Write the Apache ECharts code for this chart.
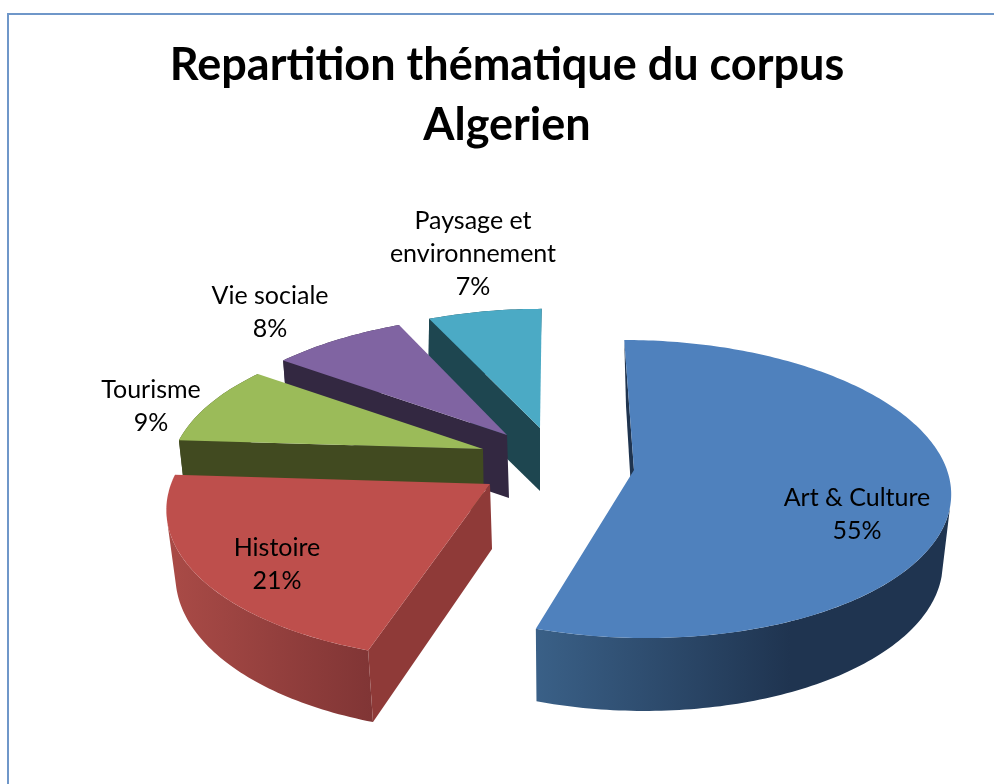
<!DOCTYPE html>
<html>
<head>
<meta charset="utf-8">
<style>html,body{margin:0;padding:0;background:#fff}#c{width:994px;height:784px}</style>
<script src="https://cdn.jsdelivr.net/npm/echarts@6/dist/echarts.min.js"></script>
</head>
<body>
<div id="c"></div>
<script>
var titleLines = ['Repartition thématique du corpus', 'Algerien'];
var categories = ['Art & Culture', 'Histoire', 'Tourisme', 'Vie sociale', 'Paysage et\nenvironnement'];
var shares = [55, 21, 9, 8, 7];

var topColors = ['#4f81bd', '#be4f4c', '#9bbb59', '#8064a2', '#4baac5'];
var cutColors = ['#1f344f', '#8f3a38', '#414a20', '#332841', '#1e4650'];
var wallStops = [
  [[0, '#3a6087'], [0.627, '#1f3450'], [1, '#1f3450']],
  [[0, '#a84a46'], [1, '#803535']],
  [[0, '#414a20'], [1, '#414a20']],
  [[0, '#332841'], [1, '#332841']],
  [[0, '#1e4650'], [1, '#1e4650']]
];
// Perspective of each exploded slice: apex, radii, shear, foreshortening (top face, then bottom face)
var topFace = [
  {x: 634, y: 470, rx: 313, ry: 146.6, sh: -11, k: 0.1275},
  {x: 490, y: 484, rx: 319, ry: 150, sh: 6.2, k: 0.15},
  {x: 483, y: 449, rx: 308, ry: 139, sh: 7.2, k: 0.15},
  {x: 507, y: 435, rx: 308, ry: 138, sh: 9.5, k: 0.15},
  {x: 540, y: 428, rx: 300, ry: 137, sh: 2, k: 0.15}
];
var bottomFace = [
  {x: 634, y: 539, rx: 305, ry: 150, sh: -9, k: 0.1275},
  {x: 492, y: 549, rx: 312, ry: 156, sh: 5.9, k: 0.15},
  {x: 484, y: 511, rx: 302, ry: 139, sh: 7.2, k: 0.15},
  {x: 509, y: 498, rx: 304, ry: 138, sh: 9.5, k: 0.15},
  {x: 540, y: 491, rx: 298, ry: 137, sh: 0, k: 0.15}
];
// Silhouette angle where the curved wall starts or stops being visible (null: whole arc)
var wallFrom = [104, null, null, null, null];
var wallTo = [null, 256, null, null, null];
var labelPos = [[857, 514], [277, 564], [151, 406], [270, 312], [473, 254]];
var paintOrder = [3, 4, 2, 1, 0]; // stacking rank: front slices paint last

function project(f, deg) {
  var t = deg * Math.PI / 180, s = Math.sin(t), c = Math.cos(t), w = 1 + f.k * c;
  return [f.x + (f.rx * s + f.sh * c) / w, f.y - f.ry * c / w];
}
function arc(f, a, b) {
  var pts = [], n = Math.max(2, Math.ceil(Math.abs(b - a)));
  for (var i = 0; i <= n; i++) pts.push(project(f, a + (b - a) * i / n));
  return pts;
}
var total = shares.reduce(function (a, b) { return a + b; }, 0);

function renderSlice(params, api) {
  var i = api.value(1), start = 0;
  for (var j = 0; j < i; j++) start += shares[j];
  var a = start / total * 360, b = a + api.value(0) / total * 360;
  var T = topFace[i], B = bottomFace[i];
  var wa = wallFrom[i] === null ? a : wallFrom[i], wb = wallTo[i] === null ? b : wallTo[i];
  var wallTop = arc(T, wa, wb), wallBot = arc(B, wa, wb);
  var base = paintOrder[i] * 10 + 1;
  var xs = wallBot.map(function (p) { return p[0]; });
  var x0 = Math.min.apply(null, xs), x1 = Math.max.apply(null, xs);
  var wallFill = new echarts.graphic.LinearGradient(x0, 0, x1, 0,
    wallStops[i].map(function (s) { return {offset: s[0], color: s[1]}; }), true);
  var children = [
    // curved outer wall
    {type: 'polygon', z2: base,
      shape: {points: wallTop.concat(wallBot.slice().reverse())},
      style: {fill: wallFill}},
    // visible cut wall, at the slice's starting radius
    {type: 'polygon', z2: base + 1,
      shape: {points: [[T.x, T.y], project(T, a), project(B, a), [B.x, B.y]]},
      style: {fill: cutColors[i]}},
    // top face
    {type: 'polygon', z2: base + 4,
      shape: {points: [[T.x, T.y]].concat(arc(T, a, b))},
      style: {fill: topColors[i]}},
    // label
    {type: 'text', z2: 200,
      style: {x: labelPos[i][0], y: labelPos[i][1],
        text: categories[i] + '\n' + api.value(0) + '%',
        fill: '#000', font: '25px Lato', align: 'center', verticalAlign: 'middle', lineHeight: 33}}
  ];
  return {type: 'group', children: children};
}

var chart = echarts.init(document.getElementById('c'), null, {renderer: 'canvas'});
chart.setOption({
  backgroundColor: '#fff',
  animation: false,
  title: {
    text: titleLines.join('\n'), left: 502, top: 30, textAlign: 'center',
    textStyle: {fontFamily: 'Lato', fontWeight: 'bold', fontSize: 45, lineHeight: 60, color: '#000'}
  },
  graphic: [{type: 'rect', silent: true, shape: {x: 8, y: 14, width: 1100, height: 900},
    style: {fill: 'none', stroke: '#6f97c9', lineWidth: 2}}],
  series: [{
    type: 'custom', coordinateSystem: 'none', renderItem: renderSlice, silent: true,
    data: shares.map(function (v, i) { return [v, i]; })
  }]
});
</script>
</body>
</html>
